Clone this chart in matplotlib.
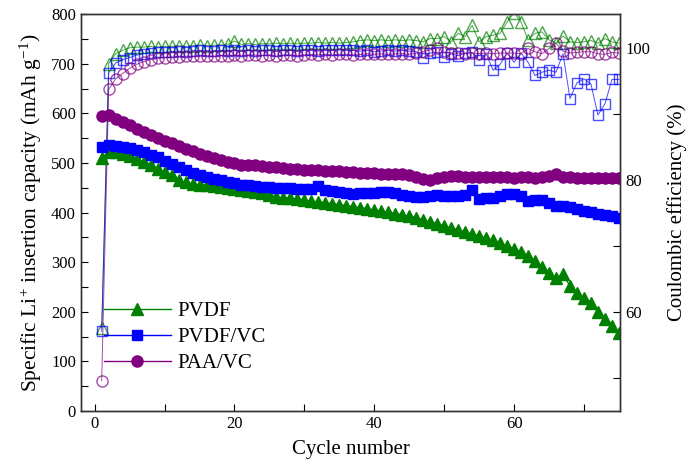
import numpy as np
import matplotlib
matplotlib.use("Agg")
import matplotlib.pyplot as plt

plt.rcParams['font.family'] = ['Liberation Serif', 'DejaVu Serif']
plt.rcParams['mathtext.fontset'] = 'custom'
plt.rcParams['mathtext.rm'] = 'Liberation Serif'
plt.rcParams['mathtext.it'] = 'Liberation Serif:italic'

cycles = np.arange(1, 76)

# specific capacity (mAh/g)
cap_pvdf = [510, 522, 522, 519, 515, 508, 502, 495, 488, 481,
            475, 465, 461, 458, 456, 455, 453, 451, 450, 448,
            445, 443, 441, 439, 435, 432, 430, 429, 427, 425,
            423, 421, 420, 418, 416, 414, 412, 410, 408, 405,
            403, 401, 398, 396, 393, 390, 385, 381, 378, 373,
            369, 365, 361, 357, 353, 348, 344, 338, 333, 327,
            320, 312, 302, 291, 279, 269, 276, 252, 238, 228,
            217, 200, 185, 172, 158]
cap_pvdf_vc = [533, 537, 535, 533, 531, 527, 522, 517, 512, 505,
               498, 492, 485, 479, 475, 471, 468, 465, 462, 459,
               456, 455, 454, 452, 451, 450, 449, 449, 448, 448,
               447, 454, 446, 444, 442, 440, 438, 439, 440, 440,
               441, 441, 439, 436, 433, 431, 432, 434, 435, 434,
               434, 433, 435, 446, 428, 429, 430, 434, 438, 437,
               434, 424, 425, 425, 420, 414, 413, 412, 408, 404,
               402, 398, 396, 393, 390]
cap_paa_vc = [594, 596, 589, 582, 576, 569, 562, 557, 551, 545,
              540, 534, 529, 524, 519, 514, 510, 506, 503, 500,
              497, 496, 495, 494, 492, 491, 489, 488, 487, 486,
              485, 485, 484, 483, 483, 482, 481, 480, 479, 479,
              478, 478, 478, 477, 476, 472, 467, 465, 470, 472,
              473, 473, 472, 472, 471, 471, 472, 471, 471, 470,
              471, 471, 470, 471, 473, 478, 472, 471, 470, 470,
              470, 470, 469, 470, 470]

# coulombic efficiency (%)
ce_pvdf = [57.6, 97.7, 99.2, 99.7, 100.1, 100.2, 100.2, 100.3, 100.2, 100.3,
           100.3, 100.4, 100.3, 100.4, 100.5, 100.4, 100.5, 100.5, 100.6, 101.1,
           100.6, 100.7, 100.6, 100.7, 100.7, 100.8, 100.7, 100.8, 100.7, 100.8,
           100.8, 100.9, 100.8, 100.9, 100.8, 100.9, 101.0, 101.2, 101.3, 101.2,
           101.3, 101.2, 101.3, 101.2, 101.3, 101.2, 101.0, 101.5, 101.5, 101.8,
           101.0, 102.3, 101.8, 103.5, 101.0, 101.8, 102.0, 102.3, 104.0, 105.4,
           104.0, 101.3, 102.3, 102.5, 101.3, 100.8, 101.9, 101.0, 100.9, 101.0,
           101.2, 100.8, 101.5, 101.0, 100.8]
ce_pvdf_vc = [57.1, 96.3, 97.8, 98.3, 98.6, 99.0, 99.2, 99.3, 99.4, 99.4,
              99.5, 99.6, 99.5, 99.6, 99.7, 99.6, 99.6, 99.7, 99.6, 99.7,
              99.6, 99.7, 99.6, 99.7, 99.7, 99.6, 99.7, 99.7, 99.6, 99.7,
              99.7, 99.6, 99.7, 99.7, 99.8, 99.7, 99.7, 99.6, 99.7, 99.5,
              99.6, 99.7, 99.6, 99.7, 99.6, 99.5, 98.6, 99.3, 99.4, 98.7,
              99.2, 98.9, 99.3, 99.4, 98.2, 99.2, 96.7, 97.6, 99.3, 97.9,
              99.3, 97.9, 95.9, 96.4, 96.7, 96.4, 99.2, 92.4, 94.8, 95.4,
              94.6, 89.9, 91.6, 95.3, 95.3]
ce_paa_vc = [49.6, 93.8, 95.4, 96.2, 97.0, 97.6, 98.0, 98.3, 98.5, 98.6,
             98.7, 98.7, 98.8, 98.8, 98.8, 98.9, 98.8, 98.9, 98.9, 99.0,
             98.9, 99.0, 99.0, 98.9, 99.0, 98.8, 99.0, 99.0, 98.9, 99.0,
             99.1, 99.0, 99.1, 99.0, 99.1, 99.1, 99.0, 99.1, 99.2, 99.1,
             99.2, 99.1, 99.2, 99.2, 99.1, 99.3, 99.5, 99.8, 100.1, 99.4,
             99.3, 99.3, 99.2, 99.3, 99.2, 99.3, 99.2, 99.3, 99.3, 99.3,
             99.2, 100.0, 99.5, 99.2, 100.0, 100.8, 99.6, 99.3, 99.4, 99.5,
             99.5, 99.2, 99.1, 99.4, 99.3]

labels = ["PVDF", "PVDF/VC", "PAA/VC"]
colors = ["#008000", "#0000ff", "#800080"]
markers = ["^", "s", "o"]
msizes = [8, 7, 8]

fig = plt.figure(figsize=(6.9, 4.72), dpi=100)
ax = fig.add_axes([0.117, 0.129, 0.782, 0.841])
ax2 = ax.twinx()

# efficiency (open symbols, right axis)
for ce, c, m, ms in zip([ce_pvdf, ce_pvdf_vc, ce_paa_vc], colors, markers, msizes):
    ax2.plot(cycles, ce, color=c, lw=0.7, alpha=0.7, marker=m,
             markersize=ms, markerfacecolor="none",
             markeredgecolor=c, markeredgewidth=1.0)

# capacity (filled symbols, left axis)
for cap, c, m, ms, lab in zip([cap_pvdf, cap_pvdf_vc, cap_paa_vc], colors,
                              markers, msizes, labels):
    ax.plot(cycles, cap, color=c, lw=1.0, marker=m, markersize=ms,
            markeredgecolor=c, markerfacecolor=c, label=lab)

ax.set_zorder(ax2.get_zorder() + 1)
ax.patch.set_visible(False)

ax.set_xlim(-2, 75.2)
ax.set_ylim(0, 800)
ax2.set_ylim(45, 105.2)

ax.set_xticks([0, 20, 40, 60])
ax.set_xticks(np.arange(0, 75, 10), minor=True)
ax.set_yticks(np.arange(0, 801, 100))
ax.set_yticks(np.arange(0, 801, 50), minor=True)
ax2.set_yticks([60, 80, 100])
ax2.set_yticks(np.arange(50, 101, 10), minor=True)

ax.tick_params(axis="both", which="both", direction="in", labelsize=12,
               top=False, right=False, length=5, width=0.8)
ax2.tick_params(axis="y", which="both", direction="in", labelsize=12,
                length=5, width=0.8)

for a in (ax, ax2):
    for s in a.spines.values():
        s.set_linewidth(1.0)
        s.set_color("#333333")

ax.set_xlabel("Cycle number", fontsize=15, labelpad=6)
ax.set_ylabel(r"Specific Li$^{+}$ insertion capacity (mAh g$^{-1}$)",
              fontsize=15.5, labelpad=5)
ax2.set_ylabel("Coulombic efficiency (%)", fontsize=15, labelpad=12)

ax.legend(loc="lower left", bbox_to_anchor=(0.02, 0.065), frameon=False,
          fontsize=15, handlelength=3.2, handletextpad=0.3,
          labelspacing=0.3, borderaxespad=0.2)

fig.savefig("out.png", dpi=100)
